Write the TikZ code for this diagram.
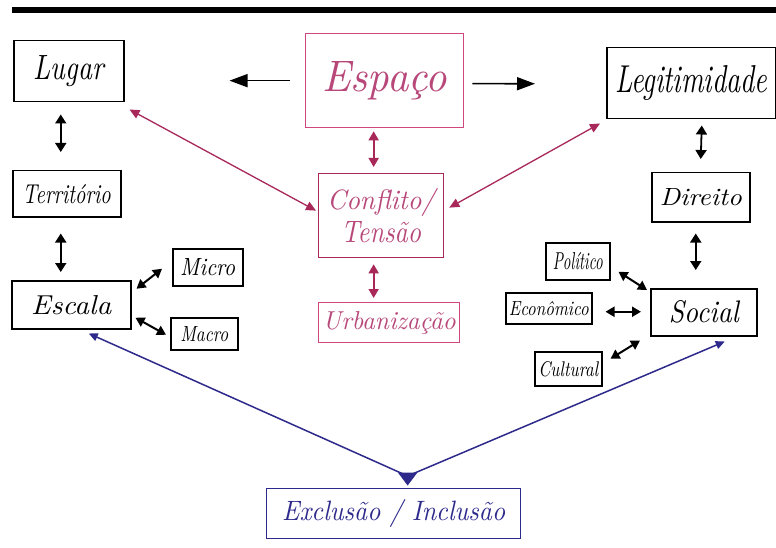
\documentclass[tikz,border=0pt]{standalone}
\usetikzlibrary{arrows.meta}
\usepackage{graphicx}
\definecolor{inkpink}{HTML}{A8285A}
\definecolor{linepink}{HTML}{D0467E}
\definecolor{textpink}{HTML}{B8487A}
\definecolor{inkblue}{HTML}{2E2A8C}
% handwritten-looking label: italic, fitted to a given width and letter height
\newcommand\hw[3]{\resizebox{#1pt}{#2pt}{\itshape #3}}
\tikzset{
  box/.style={draw=black, line width=1.5pt, anchor=north west, inner sep=0pt, align=center},
  pinkbox/.style={box, draw=linepink, line width=1.3pt, text=textpink},
  bluebox/.style={box, draw=inkblue, line width=1.3pt, text=inkblue},
  dbl/.style={line width=1.8pt, {Triangle[length=9pt,width=11pt]}-{Triangle[length=9pt,width=11pt]}},
  sdbl/.style={line width=2pt, {Triangle[length=9pt,width=10pt]}-{Triangle[length=9pt,width=10pt]}},
  bigarrow/.style={line width=1.6pt, -{Triangle[length=18pt,width=13pt]}},
  pinkdbl/.style={draw=inkpink, line width=1.7pt, {Triangle[length=9pt,width=10pt]}-{Triangle[length=9pt,width=10pt]}},
  pinkline/.style={draw=inkpink, line width=1.3pt, {Triangle[length=10pt,width=9pt]}-{Triangle[length=10pt,width=9pt]}},
  blueline/.style={draw=inkblue, line width=1.5pt},
  bluetip/.style={fill=inkblue, draw=inkblue, line width=0.6pt},
}
\begin{document}
\begin{tikzpicture}[x=1pt, y=-1pt]
\useasboundingbox (0,0) rectangle (776,548);
\fill[white] (0,0) rectangle (776,548);
% heavy rule across the top
\fill[black] (12,7) rectangle (776,13);

% left column
\node[box, minimum width=110pt, minimum height=61pt] (lugar) at (13,40) {\hw{70}{24}{Lugar}};
\node[box, minimum width=108pt, minimum height=46pt] (terr) at (12,170) {\hw{88}{19}{Território}};
\node[box, minimum width=119pt, minimum height=48pt] (escala) at (11,280) {\hw{80}{19}{Escala}};
\node[box, minimum width=70pt, minimum height=37pt] (micro) at (172,248) {\hw{55}{17}{Micro}};
\node[box, minimum width=67pt, minimum height=32pt] (macro) at (170,317) {\hw{48}{15}{Macro}};

% centre column
\node[pinkbox, minimum width=158pt, minimum height=94pt] (espaco) at (305,33) {\hw{125}{30}{Espaço}};
\node[pinkbox, draw=inkpink, minimum width=125pt, minimum height=84pt] (conf) at (318,173)
  {\hw{108}{21}{Conflito/}\\[4pt]\hw{80}{21}{Tensão}};
\node[pinkbox, minimum width=141pt, minimum height=40pt] (urb) at (318,302) {\hw{133}{18}{Urbanização}};

% right column
\node[box, minimum width=169pt, minimum height=71pt] (legit) at (606,47) {\hw{152}{27}{Legitimidade}};
\node[box, minimum width=98pt, minimum height=49pt] (direito) at (651,172) {\hw{82}{17}{Direito}};
\node[box, minimum width=106pt, minimum height=47pt] (social) at (650,288) {\hw{70}{22}{Social}};
\node[box, minimum width=64pt, minimum height=37pt] (politico) at (545,242) {\hw{50}{17}{Político}};
\node[box, minimum width=86pt, minimum height=31pt] (economico) at (505,292) {\hw{80}{14}{Econômico}};
\node[box, minimum width=67pt, minimum height=34pt] (cultural) at (534,351) {\hw{60}{15}{Cultural}};

% bottom
\node[bluebox, minimum width=254pt, minimum height=50pt] (excl) at (266,488) {\hw{223}{21}{Exclusão / Inclusão}};

% black connectors
\draw[bigarrow] (espaco.west) ++(-15,0) -- ([xshift=105pt]lugar.east |- espaco.west);
\draw[bigarrow] ([shift={(8,3)}]espaco.east) -- ([shift={(-71,0.5)}]legit.west);
\draw[dbl] ([shift={(-8,12)}]lugar.south) -- ([shift={(-6,-18)}]terr.north);
\draw[dbl] ([shift={(-6,16)}]terr.south) -- ([shift={(-10.5,-8)}]escala.north);
\draw[sdbl] ([shift={(5,-16)}]escala.east) -- ([shift={(-10,1.5)}]micro.west);
\draw[sdbl] ([shift={(4,13)}]escala.east) -- ([shift={(-4,1)}]macro.west);
\draw[dbl] ([shift={(10.5,6)}]legit.south) -- ([shift={(0,-13)}]direito.north);
\draw[dbl] ([shift={(-5,11)}]direito.south) -- ([shift={(-8,-18)}]social.north);
\draw[sdbl] ([shift={(8,10.5)}]politico.east) -- ([shift={(-3,2)}]social.north west);
\draw[sdbl] ([shift={(13,3.5)}]economico.east) -- ([shift={(-9,-0.5)}]social.west);
\draw[sdbl] ([shift={(8,-10)}]cultural.east) -- ([shift={(-10,4)}]social.south west);

% pink connectors
\draw[pinkdbl] ([shift={(-11,3)}]espaco.south) -- ([shift={(-7.5,-6)}]conf.north);
\draw[pinkdbl] ([shift={(-7.5,6)}]conf.south) -- ([shift={(-15.5,-4)}]urb.north);
\draw[pinkline] ([shift={(-2,-5)}]conf.west) -- ([shift={(5,7)}]lugar.south east);
\draw[pinkline] ([shift={(5,-8)}]conf.east) -- ([shift={(-6,4)}]legit.south west);

% blue V from the bottom box up to Escala and Social
\coordinate (vtx) at ([shift={(14,-12)}]excl.north);
\draw[blueline, -{Triangle[length=9pt,width=8pt]}] (vtx) -- ([shift={(17.5,4)}]escala.south);
\draw[blueline, -{Triangle[length=9pt,width=8pt]}] (vtx) -- ([shift={(21,5)}]social.south);
\draw[bluetip] ([shift={(-9,-3)}]vtx) -- ([shift={(9,-3)}]vtx) -- ([shift={(0,9)}]vtx) -- cycle;
\end{tikzpicture}
\end{document}
